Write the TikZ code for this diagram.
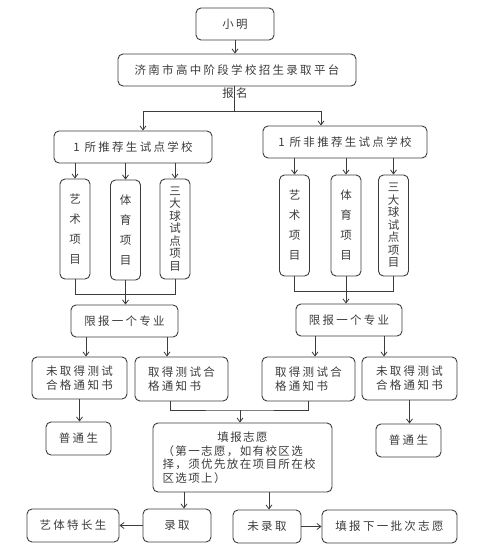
\documentclass[tikz,border=0pt]{standalone}
\usepackage{fontspec}
\newfontfamily\cjk[LetterSpace=20]{Noto Sans CJK SC}
\newfontfamily\cjknarrow[LetterSpace=12]{Noto Sans CJK SC}
\usetikzlibrary{arrows.meta}
\definecolor{linegray}{HTML}{3C3C3C}

\begin{document}
\begin{tikzpicture}[x=1pt, y=-1pt,
        box/.style={draw=linegray, line width=0.9pt, rounded corners=5pt, text=linegray, inner sep=0pt, align=center, font=\cjk\fontsize{11.5}{14}\selectfont},
        tallbox/.style={box, minimum width=30, font=\cjk\fontsize{11.5}{20}\selectfont},
        link/.style={draw=linegray, line width=0.8pt},
        arrow/.style={link, -{Straight Barb[length=4pt, width=6pt]}}]
    \useasboundingbox (0, 0) rectangle (500, 554);

    \node (xiaoming) at (235, 24)[box, minimum width=78, minimum height=32] {小明};

    \node (platform) at (237, 70)[box, minimum width=238, minimum height=32] {济南市高中阶段学校招生录取平台};

    \draw[arrow] (xiaoming.south) -- (xiaoming.south |- platform.north);

    \coordinate (split) at (234, 111);
    \coordinate (splitL) at (143, 111);
    \coordinate (splitR) at (321, 111);

    \draw[link] (platform.south -| split) -- (split);
    \draw[link] (splitL) -- (splitR);

    \node (signup) at (235, 93)[text=linegray, inner sep=0pt, font=\cjk\fontsize{11.5}{14}\selectfont] {报名};

    \node (lschool) at (133, 147)[box, minimum width=158, minimum height=32] {1 所推荐生试点学校};

    \node (rschool) at (345, 142)[box, minimum width=164, minimum height=32] {1 所非推荐生试点学校};

    \draw[arrow] (splitL) -- (splitL |- lschool.north);
    \draw[arrow] (splitR) -- (splitR |- rschool.north);

    \node (litem1) at (75, 229)[tallbox, minimum height=100] {艺\\术\\项\\目};
    \node (litem2) at (125.5, 230)[tallbox, minimum height=100] {体\\育\\项\\目};
    \node (litem3) at (175, 229)[tallbox, minimum height=100, font=\cjk\fontsize{11.5}{12.5}\selectfont] {三\\大\\球\\试\\点\\项\\目};

    \node (ritem1) at (294.5, 225.5)[tallbox, minimum height=101] {艺\\术\\项\\目};
    \node (ritem2) at (346, 225.5)[tallbox, minimum height=101] {体\\育\\项\\目};
    \node (ritem3) at (393.5, 225.5)[tallbox, minimum height=101, font=\cjk\fontsize{11.5}{12.5}\selectfont] {三\\大\\球\\试\\点\\项\\目};

    \foreach \i in {1, 2, 3} {
        \draw[arrow] (lschool.south -| litem\i) -- (litem\i.north);
        \draw[arrow] (rschool.south -| ritem\i) -- (ritem\i.north);
    }

    \node (llimit) at (124.5, 321)[box, minimum width=107, minimum height=32] {限报一个专业};

    \node (rlimit) at (349, 320)[box, minimum width=106, minimum height=32] {限报一个专业};

    \draw[link] (litem1.south) -- ++(0, 15) -| (litem3.south);
    \draw[arrow] (litem2.south) -- (litem2.south |- llimit.north);

    \draw[link] (ritem1.south) -- ++(0, 15) -| (ritem3.south);
    \draw[arrow] (ritem2.south) -- (ritem2.south |- rlimit.north);

    \node (lfail) at (79.5, 378)[box, minimum width=95, minimum height=42, align=left] {未取得测试\\合格通知书};

    \node (lpass) at (181.5, 379)[box, minimum width=93, minimum height=44, align=left] {取得测试合\\格通知书};

    \node (rpass) at (308.5, 379)[box, minimum width=93, minimum height=44, align=left] {取得测试合\\格通知书};

    \node (rfail) at (409.5, 378.5)[box, minimum width=95, minimum height=43, align=left] {未取得测试\\合格通知书};

    \draw[arrow] ([xshift=-38.5]llimit.south) -- ([xshift=-38.5]llimit.south |- lfail.north);
    \draw[arrow] ([xshift=42.5]llimit.south) -- ([xshift=42.5]llimit.south |- lpass.north);
    \draw[arrow] ([xshift=-34]rlimit.south) -- ([xshift=-34]rlimit.south |- rpass.north);
    \draw[arrow] ([xshift=35]rlimit.south) -- ([xshift=35]rlimit.south |- rfail.north);

    \node (lnormal) at (78.5, 438.5)[box, minimum width=65, minimum height=33] {普通生};

    \node (rnormal) at (408.5, 440.5)[box, minimum width=65, minimum height=33] {普通生};

    \draw[arrow] (lfail.south) -- (lfail.south |- lnormal.north);
    \draw[arrow] (rfail.south) -- (rfail.south |- rnormal.north);

    \node (wish) at (242.5, 457.5)[box, minimum width=179, minimum height=69, text width=160, align=left, font=\cjknarrow\fontsize{11.5}{13.5}\selectfont] {\makebox[\linewidth][c]{填报志愿}\\（第一志愿，如有校区选\\择，须优先放在项目所在校\\区选项上）};

    \coordinate (passmerge) at (240, 410);

    \draw[link] ([xshift=-11.5]lpass.south) |- (passmerge) -| (rpass.south);
    \draw[arrow] (passmerge) -- (passmerge |- wish.north);

    \node (admit) at (177, 525.5)[box, minimum width=68, minimum height=33] {录取};

    \node (special) at (73, 525.5)[box, minimum width=92, minimum height=33] {艺体特长生};

    \node (reject) at (267, 526.5)[box, minimum width=68, minimum height=33] {未录取};

    \node (next) at (389.5, 526.5)[box, minimum width=135, minimum height=33] {填报下一批次志愿};

    \draw[arrow] ([xshift=7]admit.north |- wish.south) -- ([xshift=7]admit.north);
    \draw[arrow] ([xshift=2]reject.north |- wish.south) -- ([xshift=2]reject.north);

    \draw[arrow] (admit.west) -- (special.east);
    \draw[arrow] (reject.east) -- (next.west);
\end{tikzpicture}
\end{document}
